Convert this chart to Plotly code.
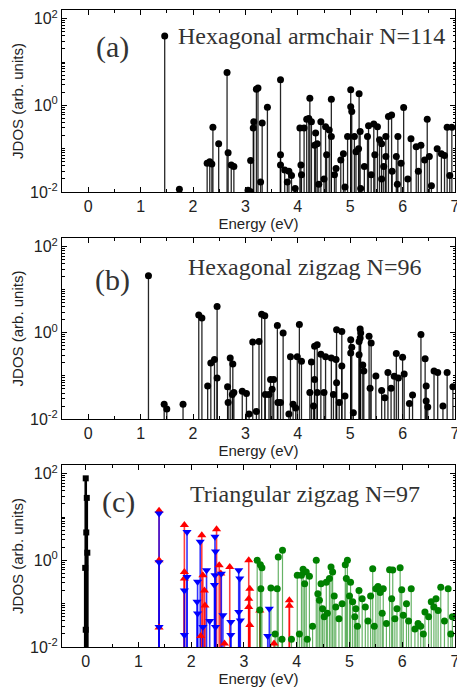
import plotly.graph_objects as go

# ---------------- data ----------------
# Panel (a) Hexagonal armchair N=114
a_energy = [1.46, 1.74, 2.27, 2.32, 2.36, 2.38, 2.49, 2.65, 2.67, 2.73, 2.78, 3.10, 3.10, 3.15, 3.16,
            3.21, 3.24, 3.29, 3.32, 3.42, 3.67, 3.67, 3.67, 3.75, 3.83, 3.88, 3.80, 4.04, 4.06, 4.07,
            4.12, 4.17, 4.23, 4.21, 4.26, 4.34, 4.32, 4.37, 4.44, 4.53, 4.55, 4.60, 4.64, 4.64, 4.73,
            4.82, 4.87, 4.95, 5.01, 5.01, 5.03, 5.08, 5.11, 5.17, 5.16, 5.19, 5.27, 5.33, 5.35, 5.45,
            5.47, 5.52, 5.56, 5.60, 5.68, 5.73, 5.79, 5.68, 5.64, 5.88, 5.91, 6.02, 5.97, 6.16, 6.26,
            6.35, 6.47, 6.42, 6.51, 6.66, 6.74, 6.80, 6.85, 6.94, 6.90,
            3.05, 3.95, 4.40, 4.90, 5.20, 5.60, 5.90, 6.10, 6.30, 6.55, 4.50, 4.70, 5.40, 5.80]
a_jdos = [40, 0.0115, 0.046, 0.05, 0.044, 0.31, 0.13, 5.7, 0.081, 0.042, 0.039, 0.053, 0.0102, 0.30, 0.42,
          2.35, 2.5, 0.017, 0.39, 0.9, 3.9, 0.072, 0.042, 0.032, 0.03, 0.024, 0.017, 0.30, 0.042, 0.025,
          0.30, 0.48, 1.46, 0.5, 0.42, 0.23, 0.12, 0.13, 0.42, 0.32, 0.072, 0.27, 1.38, 0.19, 0.035,
          0.055, 0.076, 0.19, 2.3, 0.93, 0.72, 0.19, 0.085, 1.84, 0.10, 0.25, 0.039, 0.19, 0.34, 0.37,
          0.072, 0.32, 0.16, 0.13, 0.19, 0.55, 0.60, 0.066, 0.039, 0.066, 0.19, 0.89, 0.046, 0.17, 0.11,
          0.12, 0.48, 0.055, 0.066, 0.10, 0.076, 0.07, 0.31, 0.31, 0.024,
          0.011, 0.012, 0.015, 0.013, 0.012, 0.02, 0.015, 0.02, 0.03, 0.014, 0.02, 0.025, 0.025, 0.03]

# Panel (b) Hexagonal zigzag N=96
b_energy = [1.15, 1.45, 1.50, 1.81, 2.11, 2.17, 2.28, 2.34, 2.41, 2.46, 2.46, 2.66, 2.71, 2.76, 2.67,
            2.75, 2.78, 2.94, 3.02, 3.07, 3.14, 3.26, 3.21, 3.31, 3.37, 3.38, 3.45, 3.48, 3.54, 3.51,
            3.61, 3.62, 3.67, 3.72, 3.86, 3.83, 3.91, 3.96, 3.99, 4.03, 4.07, 4.26, 4.23, 4.32, 4.32,
            4.37, 4.37, 4.30, 4.44, 4.53, 4.50, 4.64, 4.68, 4.73, 4.74, 4.84, 4.84, 4.74, 4.79, 4.90,
            5.01, 5.03, 5.01, 5.06, 5.19, 5.20, 5.19, 5.17, 5.17, 5.24, 5.26, 5.36, 5.40, 5.38, 5.49,
            5.60, 5.66, 5.72, 5.78, 5.84, 5.88, 5.92, 6.00, 6.03, 6.13, 6.19, 6.35, 6.43, 6.45, 6.45,
            6.48, 6.60, 6.67, 6.77, 6.85, 6.96]
b_jdos = [21, 0.022, 0.017, 0.022, 2.6, 2.2, 0.058, 0.20, 0.24, 4.1, 0.09, 0.056, 0.26, 0.19, 0.024,
          0.037, 0.041, 0.044, 0.039, 0.013, 0.61, 0.63, 0.015, 2.7, 2.5, 0.037, 0.037, 0.083, 0.083, 0.049,
          1.48, 0.024, 0.024, 0.99, 0.28, 0.013, 0.022, 0.018, 0.28, 1.55, 0.22, 0.21, 0.041, 0.083, 0.49,
          0.53, 0.041, 0.02, 0.32, 0.28, 0.041, 0.26, 0.037, 0.24, 1.17, 1.07, 0.17, 0.069, 0.024, 0.034,
          0.69, 0.46, 0.34, 0.014, 1.22, 0.99, 0.76, 0.63, 0.31, 0.18, 0.13, 0.83, 0.58, 0.052, 0.10,
          0.046, 0.031, 0.12, 0.052, 0.098, 0.33, 0.089, 0.27, 0.11, 0.023, 0.036, 0.91, 0.25, 0.058, 0.026,
          0.019, 0.13, 0.12, 0.02, 0.12, 0.056]

# Panel (c) Triangular zigzag N=97 : four series
c_black_energy = [0.0, 0.02, 0.01, 0.03, -0.01, 0.0]
c_black_jdos = [78, 27.6, 4.4, 1.5, 0.67, 0.025]

c_red_energy = [1.39, 1.39, 1.39, 1.87, 1.87, 1.87, 2.20, 2.22, 2.25, 2.26, 2.18, 2.48, 2.53, 2.56,
                2.73, 3.09, 3.11, 3.09, 3.09, 3.11, 3.30, 3.86, 3.86, 3.57, 2.63]
c_red_jdos = [14, 1.0, 0.028, 6.5, 0.54, 0.38, 3.8, 0.45, 0.2, 0.091, 0.018, 5.2, 0.77, 0.5,
              0.7, 1.0, 0.22, 0.13, 0.084, 0.032, 0.07, 0.12, 0.09, 0.012, 0.012]

c_blue_energy = [1.39, 1.39, 1.39, 1.92, 1.87, 1.92, 1.87, 2.17, 2.12, 2.11, 2.12, 2.22, 2.29, 2.45,
                 2.46, 2.45, 2.44, 2.46, 2.57, 2.60, 2.75, 2.75, 2.90, 2.92, 2.90, 2.93, 3.48, 3.45, 2.35]
c_blue_jdos = [12, 0.9, 0.029, 4.5, 0.2, 0.41, 0.019, 2.7, 0.32, 0.11, 0.059, 0.029, 0.59, 3.5,
               1.6, 0.45, 0.27, 0.029, 0.49, 0.054, 0.038, 0.019, 0.59, 0.38, 0.064, 0.041, 0.076, 0.018, 0.04]

c_green_energy = [3.25, 3.31, 3.34, 3.32, 3.30, 3.51, 3.63, 3.65, 3.73, 3.59, 3.72, 4.01, 4.09, 4.12,
                  4.18, 4.24, 4.15, 4.37, 4.40, 4.43, 4.46, 4.49, 4.56, 4.62, 4.65, 4.68, 4.71, 4.74,
                  4.92, 4.96, 4.94, 5.00, 5.02, 5.06, 5.12, 5.18, 5.24, 5.30, 5.40, 5.44, 5.50, 5.54,
                  5.58, 5.64, 5.76, 5.82, 5.96, 5.99, 5.80, 5.90, 6.02, 6.12, 6.17, 6.24, 6.30, 6.43,
                  6.55, 6.60, 6.64, 6.73, 6.87, 6.80, 6.92, 4.52, 4.58, 4.80, 4.86, 5.10, 5.15, 5.35,
                  5.62, 5.70, 5.86, 6.08, 6.35, 6.50, 6.68, 6.95, 4.05, 4.30, 5.47, 6.40, 3.90, 4.20]
c_green_jdos = [1.0, 0.79, 0.67, 0.22, 0.071, 0.23, 0.22, 1.2, 1.7, 0.02, 0.015, 0.45, 0.45, 0.62,
                0.54, 0.43, 0.29, 1.0, 0.17, 0.12, 0.29, 0.076, 0.31, 0.38, 0.7, 0.54, 0.15, 0.084,
                0.79, 1.0, 0.38, 0.15, 0.31, 0.11, 0.076, 0.2, 0.13, 0.084, 0.15, 0.64, 0.22, 0.25,
                0.18, 0.22, 0.61, 0.6, 0.67, 0.21, 0.13, 0.076, 0.054, 0.04, 0.22, 0.026, 0.035, 0.064,
                0.11, 0.084, 0.13, 0.24, 0.22, 0.04, 0.02, 0.05, 0.06, 0.045, 0.1, 0.05, 0.03, 0.04,
                0.06, 0.035, 0.045, 0.1, 0.03, 0.05, 0.07, 0.05, 0.02, 0.03, 0.03, 0.02, 0.015, 0.015]

x_ticks = [0, 1, 2, 3, 4, 5, 6, 7]
y_tickvals = [0.01, 1, 100]
y_ticktext = ["10<sup>-2</sup>", "10<sup>0</sup>", "10<sup>2</sup>"]
panel_labels = ["(a)", "(b)", "(c)"]
panel_titles = ["Hexagonal armchair N=114", "Hexagonal zigzag N=96", "Triangular zigzag N=97"]

# ---------------- helpers ----------------
FLOOR = 1e-3


def stems(xs, ys):
    sx, sy = [], []
    for x, y in zip(xs, ys):
        sx += [x, x, None]
        sy += [FLOOR, y, None]
    return sx, sy


fig = go.Figure()


def add_series(xs, ys, axis_idx, line_color, line_width, marker_color, symbol, msize):
    xa = "x" if axis_idx == 1 else f"x{axis_idx}"
    ya = "y" if axis_idx == 1 else f"y{axis_idx}"
    sx, sy = stems(xs, ys)
    fig.add_trace(go.Scatter(x=sx, y=sy, mode="lines", xaxis=xa, yaxis=ya,
                             line=dict(color=line_color, width=line_width),
                             hoverinfo="skip", showlegend=False))
    return dict(x=xs, y=ys, xaxis=xa, yaxis=ya, marker_color=marker_color, symbol=symbol, size=msize)


def add_markers(m):
    fig.add_trace(go.Scatter(x=m["x"], y=m["y"], mode="markers", xaxis=m["xaxis"], yaxis=m["yaxis"],
                             marker=dict(color=m["marker_color"], symbol=m["symbol"], size=m["size"],
                                         line=dict(width=0)),
                             showlegend=False, cliponaxis=True))


ma = add_series(a_energy, a_jdos, 1, "rgba(0,0,0,0.85)", 1.3, "black", "circle", 7)
add_markers(ma)
mb = add_series(b_energy, b_jdos, 2, "rgba(0,0,0,0.85)", 1.3, "black", "circle", 7)
add_markers(mb)

mr = add_series(c_red_energy, c_red_jdos, 3, "rgba(255,0,0,0.75)", 1.6, "red", "triangle-up", 8)
mbl = add_series(c_blue_energy, c_blue_jdos, 3, "rgba(0,0,255,0.8)", 1.6, "blue", "triangle-down", 8)
mg = add_series(c_green_energy, c_green_jdos, 3, "rgba(0,128,0,0.6)", 1.2, "green", "circle", 7)
mk = add_series(c_black_energy, c_black_jdos, 3, "black", 2.6, "black", "square", 6)
for m in (mr, mbl, mg, mk):
    add_markers(m)

# ---------------- layout ----------------
W, H = 457, 689
L, R, T, B = 62, 2, 10, 42
ph = H - T - B
pw = W - L - R
# panel pixel extents (top, bottom)
panel_px = [(10, 192), (238, 419), (465, 647)]
domains = [((H - B - b) / ph, (H - B - t) / ph) for (t, b) in panel_px]
xranges = [[-0.5, 7.0], [-0.5, 7.0], [-0.45, 7.0]]
minor_y = [k * 10 ** d for d in range(-2, 3) for k in range(1, 10) if not (k == 1 and d % 2 == 0)]
minor_x = [-0.5, 0.5, 1.5, 2.5, 3.5, 4.5, 5.5, 6.5]

layout = dict(width=W, height=H, paper_bgcolor="white", plot_bgcolor="white",
              margin=dict(l=L, r=R, t=T, b=B, autoexpand=False), showlegend=False,
              font=dict(family="Liberation Sans, Arial, sans-serif", color="#222"))

for i in range(3):
    suffix = "" if i == 0 else str(i + 1)
    layout["xaxis" + suffix] = dict(
        domain=[0, 1], anchor="y" + suffix, range=xranges[i], automargin=False,
        tickvals=x_ticks, ticks="inside", ticklen=5, tickwidth=1, tickcolor="black",
        ticklabeloverflow="allow",
        showline=True, linecolor="black", linewidth=1, mirror="allticks",
        showgrid=False, zeroline=False,
        minor=dict(tickvals=minor_x, ticks="inside", ticklen=3, tickcolor="black", showgrid=False),
        tickfont=dict(size=16, color="#222"),
        title=dict(text="Energy (eV)", font=dict(size=15, color="#222"), standoff=0))
    layout["yaxis" + suffix] = dict(
        domain=[max(0, domains[i][0]), min(1, domains[i][1])], anchor="x" + suffix, type="log",
        range=[-2, 2.2], automargin=False,
        tickvals=y_tickvals, ticktext=y_ticktext, ticks="inside", ticklen=5, tickcolor="black",
        showline=True, linecolor="black", linewidth=1, mirror="allticks",
        showgrid=False, zeroline=False,
        minor=dict(tickvals=minor_y, ticks="inside", ticklen=2.5, tickcolor="black", showgrid=False),
        tickfont=dict(size=16, color="#222"),
        title=dict(text="JDOS (arb. units)", font=dict(size=15, color="#222"), standoff=2))

fig.update_layout(**layout)

label_pos = [(112, 47), (112, 280), (118, 502)]
title_pos = [(311, 36), (304, 267), (305, 494)]
for i in range(3):
    lx, ly = label_pos[i]
    tx, ty = title_pos[i]
    fig.add_annotation(x=(lx - L) / pw, y=(H - B - ly) / ph, xref="paper", yref="paper",
                       text=panel_labels[i], showarrow=False, xanchor="center", yanchor="middle",
                       font=dict(family="Liberation Serif, Times New Roman, serif", size=30, color="#333"))
    fig.add_annotation(x=(tx - L) / pw, y=(H - B - ty) / ph, xref="paper", yref="paper",
                       text=panel_titles[i], showarrow=False, xanchor="center", yanchor="middle",
                       font=dict(family="Liberation Serif, Times New Roman, serif", size=24, color="#333"))

fig.write_html("out.html", config={"displayModeBar": False},
               post_script="document.body.style.margin='0px';document.body.style.padding='0px';")
